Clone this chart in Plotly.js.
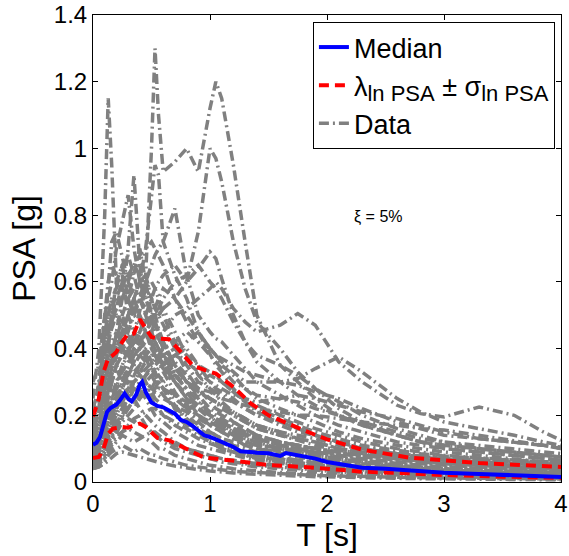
<!DOCTYPE html>
<html>
<head>
<meta charset="utf-8">
<script src="https://cdn.plot.ly/plotly-3.0.1.min.js"></script>
<style>html,body{margin:0;padding:0;background:#fff;}#chart{width:569px;height:556px;}</style>
</head>
<body>
<div id="chart"></div>
<script>
// Period grid shared by the individual record spectra
const T = [0,0.05,0.1,0.13,0.16,0.2,0.25,0.3,0.35,0.4,0.45,0.5,0.53,0.56,0.6,0.7,0.8,0.9,1.0,1.05,1.1,1.2,1.3,1.4,1.6,1.75,1.9,2.1,2.3,2.6,2.8,3.0,3.3,3.6,3.85,4.0];

// Individual record spectra (PSA in g)
const d01 = [0.25,0.4,0.8,1.15,0.95,0.6,0.5,0.45,0.42,0.4,0.38,0.35,0.33,0.3,0.28,0.22,0.18,0.15,0.12,0.11,0.1,0.09,0.08,0.07,0.06,0.05,0.045,0.04,0.035,0.03,0.027,0.024,0.02,0.018,0.016,0.015];
const d02 = [0.15,0.18,0.28,0.35,0.38,0.42,0.45,0.5,0.55,0.6,0.62,1.0,1.3,1.1,0.93,0.96,1.0,0.93,1.12,1.2,1.15,0.95,0.72,0.5,0.35,0.3,0.25,0.2,0.17,0.14,0.12,0.1,0.09,0.08,0.07,0.065];
const d03 = [0.12,0.15,0.25,0.3,0.34,0.4,0.45,0.5,0.55,0.6,0.7,0.85,0.95,0.92,0.72,0.62,0.55,0.45,0.38,0.35,0.33,0.28,0.24,0.21,0.18,0.16,0.14,0.12,0.1,0.085,0.075,0.068,0.06,0.055,0.05,0.047];
const d04 = [0.12,0.14,0.2,0.25,0.3,0.35,0.38,0.4,0.42,0.45,0.5,0.55,0.58,0.6,0.62,0.65,0.6,0.75,1.0,0.97,0.9,0.72,0.58,0.48,0.4,0.33,0.28,0.22,0.18,0.14,0.12,0.11,0.1,0.09,0.08,0.075];
const d05 = [0.1,0.12,0.18,0.22,0.26,0.3,0.33,0.36,0.4,0.42,0.45,0.48,0.5,0.5,0.52,0.55,0.6,0.64,0.69,0.67,0.61,0.5,0.42,0.36,0.3,0.26,0.23,0.2,0.17,0.14,0.12,0.11,0.1,0.09,0.08,0.075];
const d06 = [0.1,0.12,0.18,0.22,0.25,0.28,0.3,0.32,0.35,0.38,0.4,0.42,0.43,0.44,0.45,0.5,0.52,0.55,0.58,0.6,0.58,0.52,0.48,0.45,0.47,0.505,0.47,0.36,0.3,0.23,0.205,0.195,0.225,0.2,0.15,0.125];
const d07 = [0.08,0.09,0.12,0.15,0.18,0.22,0.25,0.28,0.3,0.32,0.34,0.36,0.37,0.38,0.4,0.42,0.45,0.42,0.4,0.38,0.37,0.35,0.33,0.32,0.3,0.31,0.34,0.375,0.33,0.25,0.21,0.18,0.16,0.14,0.12,0.11];
const d08 = [0.12,0.15,0.25,0.3,0.35,0.45,0.55,0.7,0.92,0.65,0.55,0.5,0.48,0.45,0.42,0.35,0.3,0.25,0.2,0.18,0.17,0.15,0.13,0.12,0.1,0.09,0.08,0.07,0.06,0.05,0.045,0.04,0.035,0.03,0.028,0.026];
const d09 = [0.2,0.3,0.5,0.55,0.6,0.7,0.78,0.86,0.7,0.6,0.5,0.45,0.42,0.4,0.37,0.3,0.26,0.22,0.2,0.19,0.18,0.16,0.14,0.13,0.11,0.1,0.09,0.08,0.07,0.06,0.055,0.05,0.045,0.04,0.035,0.033];
const d10 = [0.1,0.12,0.2,0.25,0.3,0.35,0.4,0.45,0.5,0.55,0.6,0.65,0.68,0.7,0.72,0.82,0.62,0.5,0.45,0.43,0.42,0.38,0.34,0.3,0.26,0.23,0.2,0.17,0.15,0.12,0.11,0.1,0.09,0.08,0.07,0.065];
const d11 = [0.15,0.2,0.35,0.45,0.5,0.55,0.6,0.62,0.65,0.68,0.7,0.72,0.7,0.68,0.65,0.55,0.48,0.42,0.38,0.36,0.34,0.3,0.28,0.25,0.22,0.2,0.18,0.15,0.13,0.11,0.1,0.09,0.08,0.07,0.06,0.055];
const d12 = [0.08,0.1,0.15,0.2,0.22,0.26,0.3,0.33,0.38,0.42,0.45,0.48,0.5,0.52,0.55,0.6,0.62,0.65,0.6,0.58,0.55,0.48,0.42,0.38,0.35,0.32,0.28,0.24,0.2,0.16,0.14,0.12,0.1,0.09,0.08,0.075];
const d13 = [0.18,0.25,0.45,0.6,0.72,0.75,0.68,0.6,0.55,0.5,0.45,0.4,0.38,0.36,0.33,0.27,0.22,0.18,0.15,0.14,0.13,0.11,0.1,0.09,0.075,0.065,0.058,0.05,0.045,0.038,0.034,0.03,0.026,0.023,0.02,0.019];
const d14 = [0.12,0.15,0.3,0.4,0.5,0.6,0.65,0.55,0.62,0.7,0.6,0.5,0.48,0.45,0.4,0.32,0.28,0.24,0.21,0.2,0.19,0.17,0.15,0.13,0.11,0.1,0.09,0.075,0.065,0.055,0.05,0.045,0.04,0.035,0.032,0.03];
const d15 = [0.05,0.06,0.08,0.1,0.12,0.14,0.15,0.16,0.15,0.14,0.13,0.12,0.11,0.1,0.1,0.08,0.07,0.06,0.05,0.048,0.045,0.04,0.036,0.033,0.028,0.025,0.022,0.018,0.016,0.013,0.012,0.011,0.01,0.009,0.008,0.008];
const d16 = [0.07,0.08,0.12,0.15,0.16,0.18,0.2,0.19,0.18,0.2,0.17,0.15,0.14,0.13,0.12,0.1,0.09,0.08,0.07,0.065,0.06,0.055,0.05,0.045,0.04,0.035,0.03,0.027,0.024,0.02,0.018,0.016,0.014,0.012,0.011,0.01];
const d17 = [0.1,0.12,0.2,0.25,0.3,0.35,0.32,0.3,0.33,0.35,0.3,0.27,0.25,0.24,0.22,0.2,0.17,0.15,0.13,0.12,0.11,0.1,0.09,0.08,0.07,0.065,0.06,0.05,0.045,0.04,0.036,0.032,0.028,0.025,0.022,0.02];
const d18 = [0.2,0.28,0.4,0.5,0.55,0.5,0.45,0.5,0.55,0.5,0.45,0.4,0.38,0.36,0.34,0.3,0.25,0.22,0.2,0.19,0.18,0.16,0.14,0.13,0.12,0.11,0.1,0.09,0.08,0.07,0.065,0.06,0.055,0.05,0.045,0.042];
const d19 = [0.09,0.1,0.15,0.2,0.25,0.28,0.35,0.4,0.38,0.4,0.45,0.42,0.4,0.38,0.35,0.38,0.4,0.35,0.3,0.28,0.27,0.25,0.22,0.2,0.18,0.16,0.14,0.12,0.1,0.085,0.075,0.07,0.065,0.06,0.055,0.05];
const d20 = [0.06,0.07,0.1,0.12,0.14,0.16,0.2,0.22,0.25,0.28,0.3,0.32,0.33,0.34,0.35,0.38,0.42,0.45,0.4,0.38,0.36,0.33,0.3,0.3,0.3,0.29,0.27,0.25,0.22,0.18,0.16,0.14,0.13,0.12,0.11,0.1];
const d21 = [0.08,0.1,0.15,0.18,0.22,0.25,0.3,0.35,0.4,0.45,0.48,0.5,0.52,0.55,0.58,0.55,0.5,0.45,0.4,0.38,0.35,0.32,0.28,0.26,0.25,0.24,0.22,0.2,0.18,0.15,0.13,0.12,0.11,0.1,0.09,0.085];
const d22 = [0.1,0.12,0.18,0.22,0.25,0.22,0.25,0.28,0.25,0.22,0.2,0.18,0.17,0.16,0.15,0.12,0.1,0.09,0.08,0.075,0.07,0.06,0.055,0.05,0.045,0.04,0.035,0.03,0.027,0.023,0.02,0.018,0.016,0.014,0.013,0.012];
const d23 = [0.15,0.2,0.3,0.38,0.42,0.45,0.4,0.38,0.42,0.45,0.38,0.32,0.3,0.28,0.26,0.22,0.2,0.17,0.15,0.14,0.13,0.12,0.11,0.1,0.09,0.08,0.07,0.06,0.055,0.045,0.04,0.036,0.032,0.028,0.025,0.023];
const d24 = [0.06,0.07,0.1,0.12,0.15,0.2,0.22,0.25,0.3,0.32,0.3,0.28,0.28,0.3,0.32,0.35,0.3,0.27,0.25,0.24,0.23,0.2,0.18,0.16,0.14,0.13,0.12,0.1,0.09,0.08,0.07,0.065,0.06,0.055,0.05,0.048];
const d25 = [0.04,0.045,0.06,0.08,0.09,0.1,0.11,0.1,0.09,0.1,0.09,0.08,0.08,0.075,0.07,0.06,0.05,0.045,0.04,0.038,0.035,0.032,0.03,0.028,0.025,0.022,0.02,0.018,0.016,0.014,0.013,0.012,0.011,0.01,0.009,0.009];
const d26 = [0.13,0.16,0.25,0.3,0.32,0.38,0.45,0.42,0.4,0.38,0.36,0.34,0.32,0.3,0.28,0.25,0.22,0.2,0.18,0.17,0.16,0.14,0.12,0.11,0.1,0.095,0.09,0.085,0.08,0.07,0.065,0.06,0.055,0.05,0.045,0.042];
const d27 = [0.05,0.06,0.08,0.1,0.12,0.15,0.18,0.2,0.22,0.25,0.27,0.28,0.3,0.3,0.3,0.32,0.3,0.28,0.27,0.26,0.25,0.24,0.23,0.22,0.21,0.2,0.2,0.19,0.18,0.17,0.16,0.156,0.14,0.125,0.11,0.105];
const d28 = [0.15,0.22,0.4,0.5,0.55,0.58,0.62,0.5,0.45,0.42,0.38,0.35,0.33,0.3,0.28,0.23,0.19,0.16,0.14,0.13,0.12,0.1,0.09,0.08,0.07,0.06,0.05,0.045,0.04,0.035,0.03,0.028,0.025,0.022,0.02,0.018];
const d29 = [0.09,0.11,0.2,0.28,0.35,0.42,0.5,0.55,0.58,0.6,0.55,0.5,0.47,0.44,0.4,0.33,0.27,0.22,0.19,0.18,0.17,0.15,0.13,0.12,0.1,0.09,0.08,0.07,0.06,0.05,0.045,0.04,0.036,0.032,0.03,0.028];
const d30 = [0.2,0.25,0.38,0.45,0.48,0.52,0.55,0.6,0.65,0.62,0.58,0.55,0.52,0.5,0.47,0.4,0.33,0.28,0.24,0.22,0.21,0.18,0.16,0.14,0.12,0.11,0.1,0.085,0.075,0.065,0.06,0.055,0.05,0.045,0.04,0.038];
const d31 = [0.05,0.055,0.07,0.09,0.11,0.13,0.15,0.17,0.19,0.2,0.21,0.22,0.22,0.21,0.2,0.18,0.16,0.14,0.12,0.11,0.1,0.09,0.08,0.07,0.06,0.055,0.05,0.045,0.04,0.034,0.03,0.027,0.024,0.021,0.019,0.018];
const d32 = [0.11,0.13,0.22,0.3,0.38,0.45,0.42,0.38,0.35,0.32,0.3,0.28,0.27,0.26,0.25,0.23,0.21,0.19,0.17,0.16,0.15,0.13,0.12,0.11,0.09,0.08,0.075,0.065,0.058,0.05,0.045,0.04,0.035,0.032,0.03,0.028];
const d33 = [0.07,0.08,0.1,0.13,0.18,0.22,0.28,0.32,0.36,0.4,0.42,0.45,0.48,0.5,0.52,0.45,0.38,0.32,0.28,0.26,0.24,0.21,0.19,0.17,0.15,0.13,0.12,0.1,0.09,0.075,0.068,0.062,0.055,0.05,0.046,0.044];
const d34 = [0.3,0.35,0.5,0.6,0.65,0.62,0.58,0.55,0.5,0.48,0.45,0.42,0.4,0.38,0.35,0.3,0.25,0.2,0.17,0.16,0.15,0.13,0.11,0.1,0.085,0.075,0.065,0.055,0.05,0.042,0.038,0.034,0.03,0.027,0.025,0.024];
const d35 = [0.04,0.05,0.07,0.08,0.1,0.12,0.14,0.13,0.12,0.13,0.14,0.15,0.15,0.14,0.13,0.11,0.1,0.09,0.08,0.075,0.07,0.065,0.06,0.055,0.05,0.045,0.04,0.035,0.032,0.028,0.025,0.022,0.02,0.018,0.016,0.015];
const d36 = [0.14,0.17,0.28,0.35,0.4,0.38,0.42,0.48,0.52,0.55,0.5,0.45,0.42,0.4,0.38,0.34,0.3,0.27,0.25,0.24,0.23,0.21,0.19,0.17,0.15,0.14,0.13,0.11,0.1,0.085,0.078,0.07,0.065,0.06,0.055,0.052];
const d37 = [0.06,0.07,0.09,0.12,0.14,0.17,0.22,0.25,0.28,0.27,0.26,0.26,0.27,0.28,0.28,0.26,0.24,0.22,0.2,0.19,0.18,0.16,0.15,0.14,0.12,0.11,0.1,0.09,0.08,0.07,0.065,0.06,0.055,0.05,0.047,0.045];
const d38 = [0.17,0.2,0.32,0.42,0.5,0.58,0.65,0.68,0.62,0.55,0.52,0.48,0.45,0.43,0.4,0.36,0.32,0.28,0.25,0.24,0.22,0.2,0.18,0.16,0.14,0.125,0.11,0.095,0.085,0.07,0.062,0.056,0.05,0.045,0.042,0.04];
const d39 = [0.08,0.09,0.14,0.18,0.2,0.24,0.28,0.3,0.3,0.28,0.25,0.22,0.2,0.19,0.18,0.15,0.13,0.11,0.1,0.095,0.09,0.08,0.072,0.065,0.055,0.05,0.045,0.04,0.035,0.03,0.027,0.024,0.022,0.02,0.018,0.017];
const d40 = [0.1,0.11,0.15,0.2,0.24,0.3,0.35,0.38,0.45,0.52,0.58,0.6,0.58,0.55,0.5,0.42,0.38,0.35,0.33,0.32,0.3,0.27,0.24,0.22,0.19,0.17,0.15,0.13,0.11,0.095,0.085,0.078,0.07,0.065,0.06,0.058];
const d41 = [0.04,0.045,0.055,0.065,0.075,0.085,0.09,0.085,0.08,0.075,0.07,0.065,0.062,0.06,0.055,0.048,0.042,0.037,0.033,0.031,0.03,0.027,0.025,0.023,0.02,0.018,0.016,0.014,0.012,0.011,0.01,0.009,0.008,0.0075,0.007,0.007];
const d42 = [0.22,0.28,0.45,0.5,0.48,0.52,0.6,0.55,0.5,0.55,0.62,0.55,0.5,0.46,0.42,0.35,0.3,0.26,0.22,0.21,0.2,0.18,0.16,0.14,0.12,0.11,0.1,0.09,0.08,0.07,0.062,0.056,0.05,0.046,0.042,0.04];
const d43 = [0.06,0.065,0.08,0.1,0.13,0.16,0.19,0.22,0.25,0.28,0.32,0.35,0.36,0.37,0.38,0.4,0.35,0.3,0.28,0.27,0.26,0.24,0.22,0.2,0.17,0.15,0.14,0.12,0.105,0.09,0.08,0.075,0.07,0.065,0.06,0.058];
const d44 = [0.12,0.14,0.2,0.26,0.3,0.34,0.3,0.26,0.24,0.26,0.28,0.25,0.23,0.22,0.2,0.17,0.15,0.13,0.115,0.11,0.1,0.09,0.08,0.075,0.065,0.058,0.052,0.046,0.04,0.034,0.031,0.028,0.025,0.022,0.02,0.019];
const d45 = [0.05,0.06,0.09,0.11,0.13,0.16,0.2,0.24,0.28,0.3,0.32,0.34,0.35,0.36,0.36,0.38,0.36,0.33,0.3,0.29,0.28,0.26,0.25,0.24,0.25,0.26,0.25,0.23,0.21,0.19,0.17,0.15,0.13,0.12,0.11,0.1];
const d46 = [0.09,0.1,0.14,0.17,0.2,0.24,0.3,0.34,0.32,0.35,0.38,0.4,0.42,0.4,0.38,0.32,0.28,0.3,0.32,0.31,0.3,0.27,0.25,0.23,0.2,0.18,0.16,0.14,0.12,0.1,0.09,0.08,0.072,0.066,0.06,0.057];
const d47 = [0.16,0.2,0.35,0.42,0.46,0.5,0.48,0.44,0.4,0.42,0.4,0.36,0.34,0.32,0.3,0.26,0.23,0.2,0.18,0.17,0.16,0.14,0.125,0.11,0.1,0.09,0.08,0.07,0.062,0.053,0.048,0.044,0.04,0.036,0.033,0.031];
const d48 = [0.07,0.08,0.11,0.14,0.17,0.2,0.24,0.27,0.3,0.33,0.36,0.38,0.38,0.37,0.35,0.3,0.26,0.23,0.2,0.19,0.18,0.16,0.145,0.13,0.11,0.1,0.09,0.08,0.07,0.06,0.055,0.05,0.045,0.041,0.038,0.036];

// Median spectrum
const Tmed = [0,0.03,0.06,0.09,0.12,0.15,0.2,0.23,0.27,0.3,0.33,0.37,0.4,0.42,0.45,0.5,0.55,0.6,0.65,0.7,0.75,0.8,0.85,0.9,0.95,1.0,1.05,1.1,1.2,1.26,1.3,1.4,1.5,1.6,1.65,1.7,1.8,1.9,2.0,2.1,2.2,2.3,2.5,2.7,3.0,3.3,3.6,4.0];
const median = [0.112,0.118,0.135,0.17,0.21,0.222,0.232,0.245,0.265,0.25,0.242,0.262,0.292,0.3,0.27,0.238,0.228,0.224,0.214,0.205,0.186,0.18,0.168,0.155,0.14,0.135,0.127,0.118,0.105,0.092,0.09,0.088,0.086,0.078,0.087,0.084,0.077,0.07,0.06,0.054,0.048,0.043,0.04,0.035,0.028,0.024,0.02,0.015];

// Median +/- one log-standard deviation
const Tup = [0,0.05,0.09,0.13,0.17,0.2,0.25,0.29,0.35,0.4,0.45,0.5,0.55,0.65,0.75,0.85,0.95,1.05,1.2,1.35,1.5,1.65,1.8,2.0,2.3,2.7,3.0,3.3,3.6,4.0];
const upper = [0.196,0.25,0.33,0.37,0.38,0.39,0.42,0.44,0.445,0.488,0.46,0.435,0.43,0.428,0.39,0.35,0.336,0.325,0.285,0.235,0.2,0.176,0.155,0.128,0.097,0.073,0.065,0.057,0.052,0.045];
const Tlo = [0,0.05,0.09,0.13,0.17,0.25,0.3,0.35,0.4,0.45,0.5,0.55,0.65,0.75,0.85,0.95,1.1,1.3,1.5,1.8,2.0,2.3,2.7,3.0,3.5,4.0];
const lower = [0.072,0.075,0.1,0.145,0.16,0.165,0.163,0.168,0.175,0.165,0.15,0.132,0.125,0.108,0.09,0.073,0.068,0.06,0.051,0.045,0.04,0.031,0.026,0.021,0.016,0.012];

const records = [d01,d02,d03,d04,d05,d06,d07,d08,d09,d10,d11,d12,d13,d14,d15,d16,d17,d18,d19,d20,d21,d22,d23,d24,d25,d26,d27,d28,d29,d30,d31,d32,d33,d34,d35,d36,d37,d38,d39,d40,d41,d42,d43,d44,d45,d46,d47,d48];

const xTicks = [0,1,2,3,4];
const yTicks = [0,0.2,0.4,0.6,0.8,1,1.2,1.4];
const yTickText = ['0','0.2','0.4','0.6','0.8','1','1.2','1.4'];

const FONT = 'Liberation Sans, Arial, sans-serif';
const traces = [];
records.forEach((r, i) => {
  traces.push({
    x: T, y: r, type: 'scatter', mode: 'lines',
    name: 'Data', showlegend: i === 0, legendrank: 3,
    line: {color: '#808080', width: 3.5, dash: '10px,4px,2px,4px'},
    hoverinfo: 'skip'
  });
});
traces.push({x: Tup, y: upper, type: 'scatter', mode: 'lines',
  name: 'λ<sub><span style="font-size:22px">ln PSA</span></sub> ± σ<sub><span style="font-size:22px">ln PSA</span></sub>',
  showlegend: true, legendrank: 2,
  line: {color: '#ff0000', width: 4, dash: '10px,6px'}});
traces.push({x: Tlo, y: lower, type: 'scatter', mode: 'lines',
  name: 'lower', showlegend: false,
  line: {color: '#ff0000', width: 4, dash: '10px,6px'}});
traces.push({x: Tmed, y: median, type: 'scatter', mode: 'lines',
  name: 'Median', showlegend: true, legendrank: 1,
  line: {color: '#0000ff', width: 4}});

const layout = {
  width: 569, height: 556,
  margin: {l: 93, r: 8, t: 15, b: 74},
  paper_bgcolor: '#ffffff', plot_bgcolor: '#ffffff',
  font: {family: FONT, color: '#000', size: 24},
  showlegend: true,
  legend: {
    x: 0.987, y: 0.985, xanchor: 'right', yanchor: 'top',
    bgcolor: '#ffffff', bordercolor: '#000', borderwidth: 1,
    font: {family: FONT, size: 27, color: '#000'},
    tracegroupgap: 0
  },
  xaxis: {
    range: [0, 4], tickvals: xTicks, ticktext: xTicks.map(String),
    ticks: 'inside', ticklen: 5, tickcolor: '#000', mirror: 'ticks',
    showline: true, linecolor: '#000', linewidth: 1, showgrid: false, zeroline: false,
    tickfont: {family: FONT, size: 24},
    title: {text: 'T [s]', font: {family: FONT, size: 32}, standoff: 6}
  },
  yaxis: {
    range: [0, 1.4], tickvals: yTicks, ticktext: yTickText,
    ticks: 'inside', ticklen: 5, tickcolor: '#000', mirror: 'ticks',
    showline: true, linecolor: '#000', linewidth: 1, showgrid: false, zeroline: false,
    tickfont: {family: FONT, size: 24},
    title: {text: 'PSA [g]', font: {family: FONT, size: 32}, standoff: 8}
  },
  annotations: [{
    x: 0.609, y: 0.567, xref: 'paper', yref: 'paper', showarrow: false,
    text: 'ξ = 5%', font: {family: FONT, size: 16, color: '#000'}
  }]
};

Plotly.newPlot('chart', traces, layout, {staticPlot: true, displayModeBar: false});
</script>
</body>
</html>
